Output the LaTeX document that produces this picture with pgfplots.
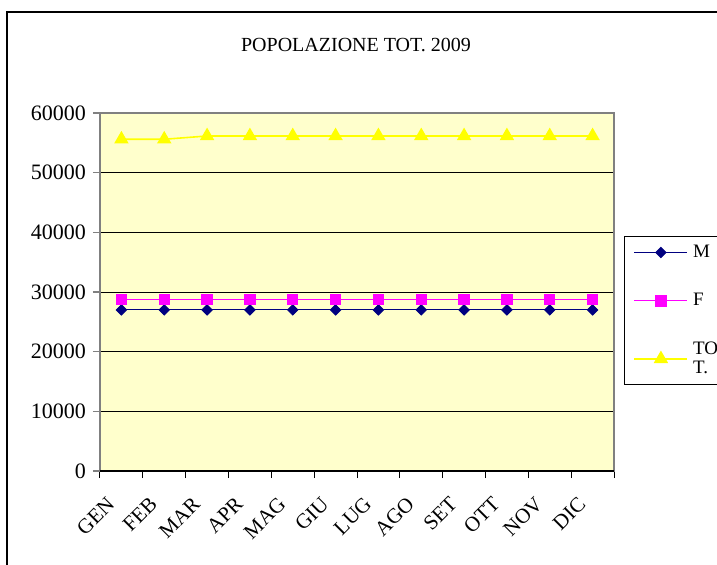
\documentclass[border=0pt]{standalone}
\usepackage{fontspec}
\setmainfont{Liberation Serif}
\usepackage{pgfplots}
\pgfplotsset{compat=1.18}
\definecolor{plotbg}{HTML}{FFFFCC}
\definecolor{mnavy}{HTML}{000080}
\definecolor{fmag}{HTML}{FF00FF}
\definecolor{tyel}{HTML}{FFFF00}
\begin{document}
\begin{tikzpicture}
\useasboundingbox (0,0) rectangle (358.5pt,282pt);
\draw[line width=0.7pt] (3.5pt,-20pt) rectangle (420pt,276pt);
\node[font=\fontsize{10}{12}\selectfont] at (178pt,259.5pt) {POPOLAZIONE TOT. 2009};
\begin{axis}[
  at={(50pt,46.5pt)}, anchor=south west,
  scale only axis, width=257pt, height=179pt,
  xmin=0.5, xmax=12.5, ymin=0, ymax=60000,
  xtick={1,...,12},
  xticklabels={GEN,FEB,MAR,APR,MAG,GIU,LUG,AGO,SET,OTT,NOV,DIC},
  major x tick style={draw=none},
  minor xtick={0.5,1.5,...,12.5},
  minor x tick style={black, line width=0.5pt},
  ytick={0,10000,...,60000},
  major y tick style={gray, line width=0.6pt},
  xtick pos=bottom, ytick pos=left,
  tick align=outside,
  major tick length=3.5pt, minor tick length=3.5pt,
  ymajorgrids, major grid style={black, line width=0.5pt},
  axis line style={draw=gray, line width=0.6pt},
  every outer y axis line/.append style={line width=1pt},
  axis background/.style={fill=plotbg},
  /pgf/number format/assume math mode=true,
  /pgf/number format/set thousands separator={},
  scaled y ticks=false,
  yticklabel style={font=\fontsize{11}{13}\selectfont},
  xticklabel style={font=\fontsize{10.5}{12}\selectfont, xshift=-4.5pt, yshift=-10.5pt, rotate=45, anchor=east, inner sep=1pt},
  legend style={at={(axis description cs:1.0195,0.656)}, anchor=north west,
    draw=black, line width=0.6pt, fill=white,
    font=\fontsize{9.5}{9.5}\selectfont,
    cells={anchor=west, align=left}, row sep=12.5pt,
    inner xsep=4.5pt, inner ysep=2pt},
  legend image code/.code={\draw[mark repeat=2,mark phase=2,#1] plot coordinates {(0pt,0pt) (13.25pt,0pt) (26.5pt,0pt)}; \path (27pt,0pt);},
]
\addplot[color=mnavy, line width=0.5pt, mark=square*, mark size=1.8pt, mark options={rotate=45, fill=mnavy, draw=mnavy}]
  coordinates {(1,27000) (2,27000) (3,27000) (4,27000) (5,27000) (6,27000) (7,27000) (8,27000) (9,27000) (10,27000) (11,27000) (12,27000)};
\addlegendentry{M}
\addplot[color=fmag, line width=0.5pt, mark=square*, mark size=2.6pt, mark options={fill=fmag, draw=fmag}]
  coordinates {(1,28700) (2,28700) (3,28700) (4,28700) (5,28700) (6,28700) (7,28700) (8,28700) (9,28700) (10,28700) (11,28700) (12,28700)};
\addlegendentry{F}
\addplot[color=tyel, line width=0.8pt, mark=triangle*, mark size=3.4pt, mark options={fill=tyel, draw=tyel}]
  coordinates {(1,55600) (2,55600) (3,56150) (4,56150) (5,56150) (6,56150) (7,56150) (8,56150) (9,56150) (10,56150) (11,56150) (12,56150)};
\addlegendentry{TO\\T.}
\draw[black, line width=0.6pt] (axis cs:0.5,0) -- (axis cs:12.5,0);
\end{axis}
\end{tikzpicture}
\end{document}
